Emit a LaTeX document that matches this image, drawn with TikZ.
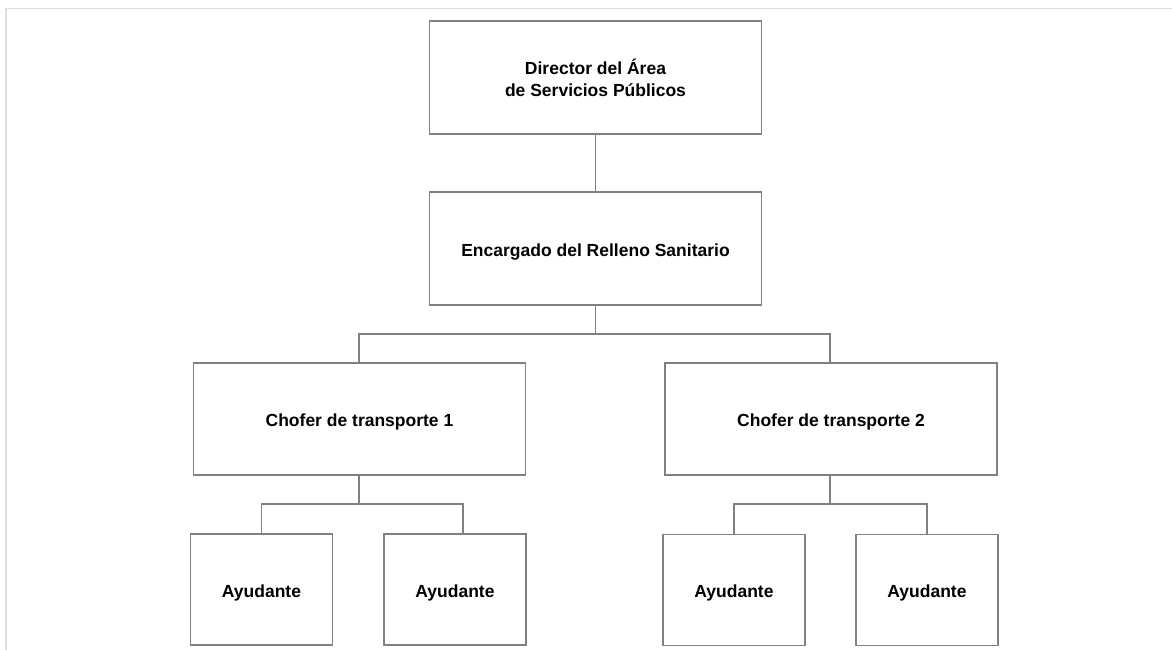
\documentclass[tikz,border=0pt]{standalone}
\usepackage{fontspec}
\setmainfont{Liberation Sans}
\begin{document}
\begin{tikzpicture}[x=1pt,y=-1pt,
  box/.style={draw=black!50, line width=1.1pt, fill=white, align=center,
    font=\bfseries\fontsize{17.5}{22}\selectfont, inner sep=0pt},
  oneline/.style={text height=16pt, text depth=0.4pt},
  wide/.style={box, minimum width=332pt, minimum height=113pt},
  small/.style={box, oneline, minimum width=142pt, minimum height=111pt},
  link/.style={draw=black!50, line width=1.1pt}]
\useasboundingbox (0,0) rectangle (1172,650);
\fill[white] (0,0) rectangle (1172,650);
% page frame
\draw[black!13, line width=1.5pt] (6,650) -- (6,8.5) -- (1172,8.5);

\node[wide] (dir) at (595.5,77.5) {Director del Área\\de Servicios Públicos};
\node[wide, oneline] (enc) at (595.5,248.5) {Encargado del Relleno Sanitario};
\node[wide, oneline, minimum height=112pt] (ch1) at (359.5,419) {Chofer de transporte 1};
\node[wide, oneline, minimum height=112pt] (ch2) at (831,419) {Chofer de transporte 2};
\node[small] (a1) at (261.5,589.5) {Ayudante};
\node[small] (a2) at (455,589.5) {Ayudante};
\node[small] (a3) at (734,590) {Ayudante};
\node[small] (a4) at (927,590) {Ayudante};

% junction points
\coordinate (j0) at (595.5,334);
\coordinate (j1) at (359,504);
\coordinate (j2) at (830,504);

\draw[link] (dir.south) -- (enc.north);
\draw[link] (enc.south) -- (j0);
\draw[link] (ch1.north -| j1) |- (j0) -| (ch2.north -| j2);
\draw[link] (ch1.south -| j1) -- (j1);
\draw[link] (a1.north) |- (j1) -| ([xshift=8pt]a2.north);
\draw[link] (ch2.south -| j2) -- (j2);
\draw[link] (a3.north) |- (j2) -| (a4.north);
\end{tikzpicture}
\end{document}
